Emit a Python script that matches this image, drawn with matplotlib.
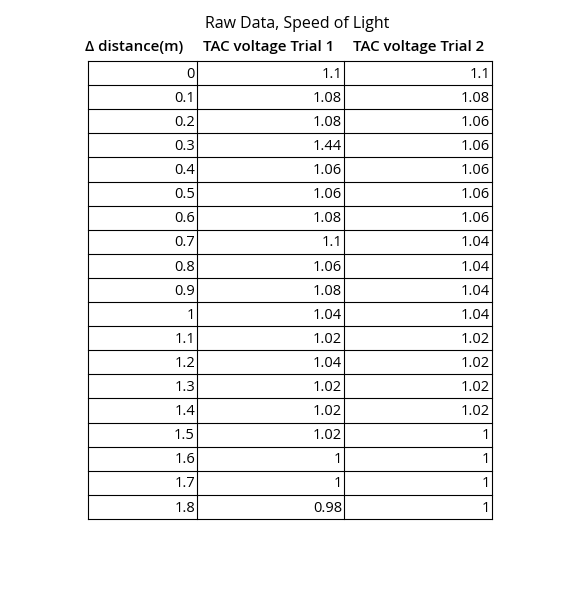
import matplotlib
matplotlib.use("Agg")
import matplotlib.pyplot as plt

title = "Raw Data, Speed of Light"
headers = ["Δ distance(m)", "TAC voltage Trial 1", "TAC voltage Trial 2"]
distance = ["0","0.1","0.2","0.3","0.4","0.5","0.6","0.7","0.8","0.9","1","1.1","1.2","1.3","1.4","1.5","1.6","1.7","1.8"]
trial1 = ["1.1","1.08","1.08","1.44","1.06","1.06","1.08","1.1","1.06","1.08","1.04","1.02","1.04","1.02","1.02","1.02","1","1","0.98"]
trial2 = ["1.1","1.08","1.06","1.06","1.06","1.06","1.06","1.04","1.04","1.04","1.04","1.02","1.02","1.02","1.02","1","1","1","1"]

W, H = 578, 600
fig = plt.figure(figsize=(W/100, H/100), dpi=100)
ax = fig.add_axes([0, 0, 1, 1])
ax.set_xlim(0, W); ax.set_ylim(H, 0); ax.axis("off")
fam = ["Open Sans", "DejaVu Sans"]

cols = [88, 197, 344, 492]
top, rh = 61, 24.1
n = len(distance)
ax.text(297, 24, title, ha="center", va="center", fontsize=11.5, family=fam)
hx = [134, 269, 419]
for x, h in zip(hx, headers):
    ax.text(x, 47, h, ha="center", va="center", fontsize=10.8, family=fam, fontweight="semibold")
for i in range(n + 1):
    y = top + i * rh
    ax.plot([cols[0], cols[-1]], [y, y], color="black", lw=0.8)
for x in cols:
    ax.plot([x, x], [top, top + n * rh], color="black", lw=0.8)
for i in range(n):
    y = top + (i + 0.55) * rh
    for j, vals in enumerate([distance, trial1, trial2]):
        ax.text(cols[j + 1] - 2, y, vals[i], ha="right", va="center", fontsize=10.5, family=fam)
fig.savefig("out.png", dpi=100)
